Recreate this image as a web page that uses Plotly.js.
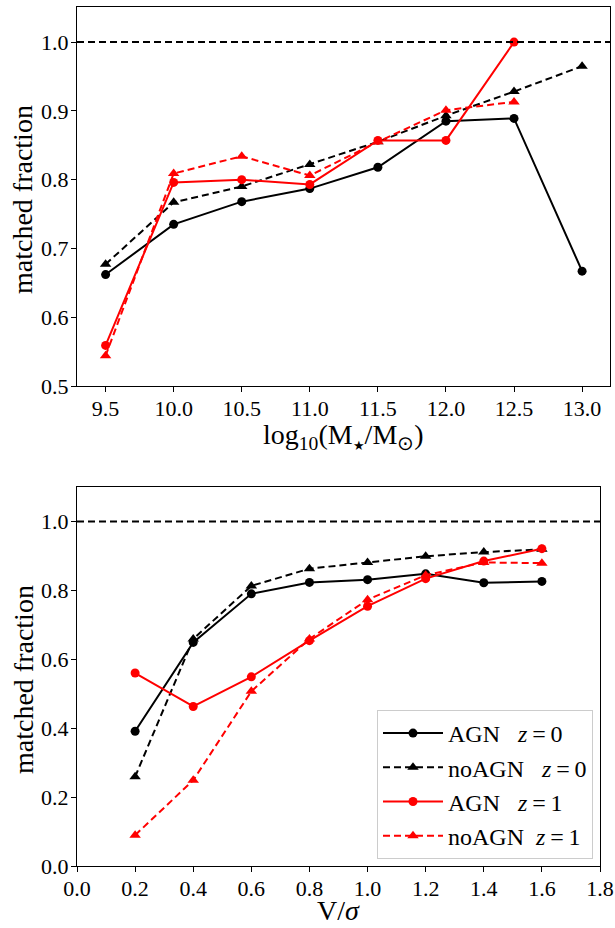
<!DOCTYPE html>
<html>
<head>
<meta charset="utf-8">
<script src="https://cdn.plot.ly/plotly-3.0.1.min.js"></script>
<style>
  html, body { margin: 0; padding: 0; background: #ffffff; }
  #chart { width: 615px; height: 928px; }
</style>
</head>
<body>
<div id="chart"></div>
<script>
// Stellar-mass bins (log10 M*/Msun)
const massBins = [9.5, 10.0, 10.5, 11.0, 11.5, 12.0, 12.5, 13.0];
const massAgnZ0   = [0.662, 0.735, 0.768, 0.787, 0.818, 0.885, 0.889, 0.667];
const massNoAgnZ0 = [0.677, 0.767, 0.790, 0.822, 0.855, 0.893, 0.928, 0.965];
const massAgnZ1   = [0.559, 0.796, 0.800, 0.793, 0.857, 0.857, 1.000];
const massNoAgnZ1 = [0.544, 0.809, 0.834, 0.806, 0.855, 0.901, 0.913];
const massTicks = [9.5, 10.0, 10.5, 11.0, 11.5, 12.0, 12.5, 13.0];

// Rotational support bins (V/sigma)
const vsBins = [0.2, 0.4, 0.6, 0.8, 1.0, 1.2, 1.4, 1.6];
const vsAgnZ0   = [0.391, 0.649, 0.790, 0.823, 0.831, 0.848, 0.822, 0.826];
const vsNoAgnZ0 = [0.259, 0.659, 0.813, 0.863, 0.881, 0.899, 0.911, 0.919];
const vsAgnZ1   = [0.560, 0.463, 0.549, 0.654, 0.754, 0.834, 0.885, 0.921];
const vsNoAgnZ1 = [0.0895, 0.249, 0.507, 0.659, 0.773, 0.844, 0.881, 0.879];

// Perfect-match level
const fullMatch = 1.0;

const seriesNames = [
  'AGN\u00a0\u00a0\u00a0<i>z</i>\u2009=\u20090',
  'noAGN\u00a0\u00a0\u00a0<i>z</i>\u2009=\u20090',
  'AGN\u00a0\u00a0\u00a0<i>z</i>\u2009=\u20091',
  'noAGN\u00a0\u00a0<i>z</i>\u2009=\u20091'
];
const massLabel = 'log<sub>10</sub>(M<sub><span style="font-size:13px">\u2605</span></sub>/M<sub>\u2299</sub>)';
const vsLabel = 'V/<i>\u03c3</i>';
const fracLabel = 'matched fraction';

const FONT = "'Liberation Serif', 'Times New Roman', serif";
const styles = [
  {color: '#000000', dash: 'solid', symbol: 'circle', size: 9},
  {color: '#000000', dash: '7px,4px', symbol: 'triangle-up', size: 10},
  {color: '#ff0000', dash: 'solid', symbol: 'circle', size: 9},
  {color: '#ff0000', dash: '7px,4px', symbol: 'triangle-up', size: 10}
];

function makeTrace(x, y, i, xa, ya, legend) {
  const s = styles[i];
  return {
    x: x.slice(0, y.length), y: y,
    type: 'scatter', mode: 'lines+markers',
    name: seriesNames[i], showlegend: legend,
    xaxis: xa, yaxis: ya,
    line: {color: s.color, width: 2, dash: s.dash},
    marker: {color: s.color, symbol: s.symbol, size: s.size}
  };
}

const traces = [
  makeTrace(massBins, massAgnZ0, 0, 'x', 'y', false),
  makeTrace(massBins, massNoAgnZ0, 1, 'x', 'y', false),
  makeTrace(massBins, massAgnZ1, 2, 'x', 'y', false),
  makeTrace(massBins, massNoAgnZ1, 3, 'x', 'y', false),
  makeTrace(vsBins, vsAgnZ0, 0, 'x2', 'y2', true),
  makeTrace(vsBins, vsNoAgnZ0, 1, 'x2', 'y2', true),
  makeTrace(vsBins, vsAgnZ1, 2, 'x2', 'y2', true),
  makeTrace(vsBins, vsNoAgnZ1, 3, 'x2', 'y2', true)
];

const W = 615, H = 928;
const axisCommon = {
  showline: true, mirror: true, linecolor: '#000000', linewidth: 1,
  ticks: 'outside', ticklen: 5, tickwidth: 1, tickcolor: '#000000',
  showgrid: false, zeroline: false, automargin: false,
  ticklabelstandoff: -2,
  tickfont: {family: FONT, size: 22, color: '#000000'}
};
const titleFont = {family: FONT, size: 28, color: '#000000'};

// Panel geometry in pixels
const massPanel = {l: 77, r: 610, t: 7, b: 386};
const vsPanel = {l: 77, r: 600, t: 487, b: 866};

function label(text, px, py, angle) {
  return {
    text: text, xref: 'paper', yref: 'paper',
    x: px / W, y: 1 - py / H, xanchor: 'center', yanchor: 'middle',
    textangle: angle || 0, showarrow: false, font: titleFont
  };
}

const layout = {
  width: W, height: H,
  margin: {l: 0, r: 0, t: 0, b: 0},
  paper_bgcolor: '#ffffff', plot_bgcolor: '#ffffff',
  font: {family: FONT, color: '#000000'},
  xaxis: Object.assign({}, axisCommon, {
    domain: [massPanel.l / W, massPanel.r / W], anchor: 'y',
    range: [9.29, 13.205], tickvals: massTicks, tickformat: '.1f'
  }),
  yaxis: Object.assign({}, axisCommon, {
    domain: [1 - massPanel.b / H, 1 - massPanel.t / H], anchor: 'x',
    range: [0.5, 1.051], dtick: 0.1, tickformat: '.1f'
  }),
  xaxis2: Object.assign({}, axisCommon, {
    domain: [vsPanel.l / W, vsPanel.r / W], anchor: 'y2',
    range: [0, 1.8], dtick: 0.2, tickformat: '.1f'
  }),
  yaxis2: Object.assign({}, axisCommon, {
    domain: [1 - vsPanel.b / H, 1 - vsPanel.t / H], anchor: 'x2',
    range: [0, 1.1], dtick: 0.2, tickformat: '.1f'
  }),
  annotations: [
    label(massLabel, (massPanel.l + massPanel.r) / 2, 436),
    label(fracLabel, 23, 200, -90),
    label(vsLabel, (vsPanel.l + vsPanel.r) / 2, 910),
    label(fracLabel, 23, 680, -90)
  ],
  shapes: [
    {type: 'line', xref: 'x domain', yref: 'y', x0: 0, x1: 1, y0: fullMatch, y1: fullMatch,
     line: {color: '#000000', width: 2, dash: '7px,4px'}},
    {type: 'line', xref: 'x2 domain', yref: 'y2', x0: 0, x1: 1, y0: fullMatch, y1: fullMatch,
     line: {color: '#000000', width: 2, dash: '7px,4px'}}
  ],
  legend: {
    x: 593 / W, y: 1 - 859 / H, xanchor: 'right', yanchor: 'bottom',
    bgcolor: '#ffffff', bordercolor: '#cccccc', borderwidth: 1,
    font: {family: FONT, size: 24, color: '#000000'},
    tracegroupgap: 0, itemwidth: 60
  },
  showlegend: true
};

Plotly.newPlot('chart', traces, layout, {displayModeBar: false, staticPlot: true});
</script>
</body>
</html>
